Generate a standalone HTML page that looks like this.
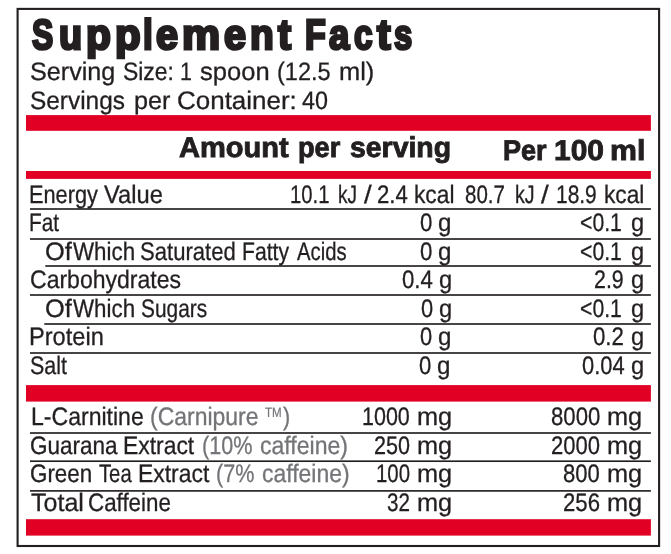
<!DOCTYPE html>
<html lang="en"><head><meta charset="utf-8"><title>Supplement Facts</title>
<style>
html,body{margin:0;padding:0;background:#fff}
#label{text-rendering:geometricPrecision;position:relative;width:671px;height:554px;overflow:hidden;background:#fff;font-family:"Liberation Sans",Arial,sans-serif;color:#231f20}
#label span{position:absolute;white-space:nowrap;transform-origin:0 0;display:block}
#label span i{display:inline-block;font-style:normal;transform-origin:0 0;white-space:nowrap;overflow:visible}
#label svg{position:absolute;left:0;top:0;display:block}
#txt{position:absolute;left:0;top:0;width:671px;height:554px;will-change:transform}
</style></head><body>
<div id="label">
<svg width="671" height="554" viewBox="0 0 671 554" shape-rendering="geometricPrecision">
<rect x="17.6" y="8.9" width="641.5" height="537.1" fill="none" stroke="#231f20" stroke-width="2.1"/>
<rect x="26" y="115.10" width="624.90" height="15.7" fill="#e10024"/>
<rect x="26" y="171.00" width="624.90" height="7.9" fill="#e10024"/>
<rect x="26" y="385.10" width="624.90" height="16.5" fill="#e10024"/>
<rect x="26" y="519.20" width="624.90" height="16.4" fill="#e10024"/>
<rect x="30" y="208.18" width="620.90" height="1.65" fill="#231f20"/>
<rect x="30" y="238.18" width="620.90" height="1.65" fill="#231f20"/>
<rect x="45.3" y="265.18" width="605.60" height="1.65" fill="#231f20"/>
<rect x="30" y="294.18" width="620.90" height="1.65" fill="#231f20"/>
<rect x="44.3" y="323.18" width="606.60" height="1.65" fill="#231f20"/>
<rect x="30" y="352.18" width="620.90" height="1.65" fill="#231f20"/>
<rect x="30" y="432.18" width="620.90" height="1.65" fill="#231f20"/>
<rect x="30" y="460.38" width="620.90" height="1.65" fill="#231f20"/>
<rect x="30" y="490.07" width="620.90" height="1.65" fill="#231f20"/>
</svg>
<div id="txt">
<span style="left:32.16px;top:14px;font-size:42.2px;line-height:42.2px;font-weight:700;-webkit-text-stroke:2.8px #231f20"><i style="width:26.92px;transform:scaleX(0.7541)">S</i><i style="width:27.02px;transform:scaleX(0.8954)">u</i><i style="width:28.46px;transform:scaleX(0.9650)">p</i><i style="width:28.50px;transform:scaleX(0.9935)">p</i><i style="width:13.20px;transform:scaleX(0.8303)">l</i><i style="width:25.87px;transform:scaleX(0.9372)">e</i><i style="width:41.53px;transform:scaleX(1.0168)">m</i><i style="width:25.98px;transform:scaleX(0.9372)">e</i><i style="width:28.04px;transform:scaleX(0.9205)">n</i><i style="width:40.00px;transform:scaleX(0.9311)">t</i></span>
<span style="left:305.10px;top:14px;font-size:42.2px;line-height:42.2px;font-weight:700;-webkit-text-stroke:2.8px #231f20"><i style="width:23.74px;transform:scaleX(0.8062)">F</i><i style="width:25.22px;transform:scaleX(0.8656)">a</i><i style="width:22.69px;transform:scaleX(0.7908)">c</i><i style="width:17.11px;transform:scaleX(0.9671)">t</i><i style="width:40.00px;transform:scaleX(0.7788)">s</i></span>
<span style="left:30.06px;top:60px;font-size:25.2px;line-height:25.2px;transform:scaleX(0.9995);-webkit-text-stroke:0.3px #231f20">Serving</span>
<span style="left:123.02px;top:60px;font-size:25.2px;line-height:25.2px;transform:scaleX(0.9088);-webkit-text-stroke:0.3px #231f20">Size:</span>
<span style="left:179.66px;top:60px;font-size:25.2px;line-height:25.2px;transform:scaleX(0.8500);-webkit-text-stroke:0.3px #231f20">1</span>
<span style="left:200.45px;top:60px;font-size:25.2px;line-height:25.2px;transform:scaleX(1.0141);-webkit-text-stroke:0.3px #231f20">spoon</span>
<span style="left:276.74px;top:60px;font-size:25.2px;line-height:25.2px;transform:scaleX(0.9327);-webkit-text-stroke:0.3px #231f20">(12.5</span>
<span style="left:338.56px;top:60px;font-size:25.2px;line-height:25.2px;transform:scaleX(1.0092);-webkit-text-stroke:0.3px #231f20">ml)</span>
<span style="left:30.08px;top:89px;font-size:25.2px;line-height:25.2px;transform:scaleX(0.9683);-webkit-text-stroke:0.3px #231f20">Servings</span>
<span style="left:134.07px;top:89px;font-size:25.2px;line-height:25.2px;transform:scaleX(1.0022);-webkit-text-stroke:0.3px #231f20">per</span>
<span style="left:176.94px;top:89px;font-size:25.2px;line-height:25.2px;transform:scaleX(1.0309);-webkit-text-stroke:0.3px #231f20">Container:</span>
<span style="left:302.47px;top:89px;font-size:25.2px;line-height:25.2px;transform:scaleX(0.9264);-webkit-text-stroke:0.3px #231f20">40</span>
<span style="left:179.20px;top:134px;font-size:28.6px;line-height:28.6px;transform:scaleX(1.0154);font-weight:700;-webkit-text-stroke:0.9px #231f20">Amount</span>
<span style="left:298.03px;top:134px;font-size:28.6px;line-height:28.6px;transform:scaleX(0.9511);font-weight:700;-webkit-text-stroke:0.9px #231f20">per</span>
<span style="left:349.86px;top:134px;font-size:28.6px;line-height:28.6px;transform:scaleX(0.9929);font-weight:700;-webkit-text-stroke:0.9px #231f20">serving</span>
<span style="left:502.63px;top:137px;font-size:28.6px;line-height:28.6px;transform:scaleX(0.9460);font-weight:700;-webkit-text-stroke:0.9px #231f20">Per</span>
<span style="left:554.40px;top:137px;font-size:28.6px;line-height:28.6px;transform:scaleX(1.0466);font-weight:700;-webkit-text-stroke:0.9px #231f20">100</span>
<span style="left:610.48px;top:137px;font-size:28.6px;line-height:28.6px;transform:scaleX(1.0585);font-weight:700;-webkit-text-stroke:0.9px #231f20">ml</span>
<span style="left:28.93px;top:183px;font-size:25.3px;line-height:25.3px;transform:scaleX(0.8600);-webkit-text-stroke:0.3px #231f20">Energy</span>
<span style="left:104.24px;top:183px;font-size:25.3px;line-height:25.3px;transform:scaleX(0.9371);-webkit-text-stroke:0.3px #231f20">Value</span>
<span style="left:289.85px;top:183px;font-size:25.3px;line-height:25.3px;transform:scaleX(0.8011);-webkit-text-stroke:0.3px #231f20">10.1</span>
<span style="left:338.42px;top:183px;font-size:25.3px;line-height:25.3px;transform:scaleX(0.7532);-webkit-text-stroke:0.3px #231f20">kJ</span>
<span style="left:363.94px;top:183px;font-size:25.3px;line-height:25.3px;transform:scaleX(1.1000);-webkit-text-stroke:0.3px #231f20">/</span>
<span style="left:376.99px;top:183px;font-size:25.3px;line-height:25.3px;transform:scaleX(0.8766);-webkit-text-stroke:0.3px #231f20">2.4</span>
<span style="left:413.91px;top:183px;font-size:25.3px;line-height:25.3px;transform:scaleX(0.8991);-webkit-text-stroke:0.3px #231f20">kcal</span>
<span style="left:465.48px;top:183px;font-size:25.3px;line-height:25.3px;transform:scaleX(0.8109);-webkit-text-stroke:0.3px #231f20">80.7</span>
<span style="left:514.79px;top:183px;font-size:25.3px;line-height:25.3px;transform:scaleX(0.7755);-webkit-text-stroke:0.3px #231f20">kJ</span>
<span style="left:540.89px;top:183px;font-size:25.3px;line-height:25.3px;transform:scaleX(1.1000);-webkit-text-stroke:0.3px #231f20">/</span>
<span style="left:555.52px;top:183px;font-size:25.3px;line-height:25.3px;transform:scaleX(0.8267);-webkit-text-stroke:0.3px #231f20">18.9</span>
<span style="left:604.12px;top:183px;font-size:25.3px;line-height:25.3px;transform:scaleX(0.8967);-webkit-text-stroke:0.3px #231f20">kcal</span>
<span style="left:29.00px;top:211px;font-size:25.3px;line-height:25.3px;transform:scaleX(0.8237);-webkit-text-stroke:0.3px #231f20">Fat</span>
<span style="left:420.04px;top:211px;font-size:25.3px;line-height:25.3px;transform:scaleX(0.8803);-webkit-text-stroke:0.3px #231f20">0</span>
<span style="left:438.39px;top:211px;font-size:25.3px;line-height:25.3px;transform:scaleX(0.9540);-webkit-text-stroke:0.3px #231f20">g</span>
<span style="left:579.73px;top:211px;font-size:25.3px;line-height:25.3px;transform:scaleX(0.8390);-webkit-text-stroke:0.3px #231f20">&lt;0.1</span>
<span style="left:630.80px;top:211px;font-size:25.3px;line-height:25.3px;transform:scaleX(0.9375);-webkit-text-stroke:0.3px #231f20">g</span>
<span style="left:44.96px;top:240px;font-size:25.3px;line-height:25.3px;transform:scaleX(1.0035);-webkit-text-stroke:0.3px #231f20">Of</span>
<span style="left:73.23px;top:240px;font-size:25.3px;line-height:25.3px;transform:scaleX(0.8833);-webkit-text-stroke:0.3px #231f20">Which</span>
<span style="left:140.34px;top:240px;font-size:25.3px;line-height:25.3px;transform:scaleX(0.8729);-webkit-text-stroke:0.3px #231f20">Saturated</span>
<span style="left:241.87px;top:240px;font-size:25.3px;line-height:25.3px;transform:scaleX(0.8358);-webkit-text-stroke:0.3px #231f20">Fatty</span>
<span style="left:296.62px;top:240px;font-size:25.3px;line-height:25.3px;transform:scaleX(0.8016);-webkit-text-stroke:0.3px #231f20">Acids</span>
<span style="left:420.04px;top:240px;font-size:25.3px;line-height:25.3px;transform:scaleX(0.8803);-webkit-text-stroke:0.3px #231f20">0</span>
<span style="left:438.39px;top:240px;font-size:25.3px;line-height:25.3px;transform:scaleX(0.9540);-webkit-text-stroke:0.3px #231f20">g</span>
<span style="left:579.73px;top:240px;font-size:25.3px;line-height:25.3px;transform:scaleX(0.8390);-webkit-text-stroke:0.3px #231f20">&lt;0.1</span>
<span style="left:630.80px;top:240px;font-size:25.3px;line-height:25.3px;transform:scaleX(0.9375);-webkit-text-stroke:0.3px #231f20">g</span>
<span style="left:29.56px;top:268px;font-size:25.3px;line-height:25.3px;transform:scaleX(0.9101);-webkit-text-stroke:0.3px #231f20">Carbohydrates</span>
<span style="left:402.24px;top:268px;font-size:25.3px;line-height:25.3px;transform:scaleX(0.8781);-webkit-text-stroke:0.3px #231f20">0.4</span>
<span style="left:438.80px;top:268px;font-size:25.3px;line-height:25.3px;transform:scaleX(0.9375);-webkit-text-stroke:0.3px #231f20">g</span>
<span style="left:594.32px;top:268px;font-size:25.3px;line-height:25.3px;transform:scaleX(0.8449);-webkit-text-stroke:0.3px #231f20">2.9</span>
<span style="left:630.80px;top:268px;font-size:25.3px;line-height:25.3px;transform:scaleX(0.9375);-webkit-text-stroke:0.3px #231f20">g</span>
<span style="left:44.96px;top:297px;font-size:25.3px;line-height:25.3px;transform:scaleX(1.0035);-webkit-text-stroke:0.3px #231f20">Of</span>
<span style="left:73.23px;top:297px;font-size:25.3px;line-height:25.3px;transform:scaleX(0.8833);-webkit-text-stroke:0.3px #231f20">Which</span>
<span style="left:140.67px;top:297px;font-size:25.3px;line-height:25.3px;transform:scaleX(0.8253);-webkit-text-stroke:0.3px #231f20">Sugars</span>
<span style="left:420.95px;top:297px;font-size:25.3px;line-height:25.3px;transform:scaleX(0.8649);-webkit-text-stroke:0.3px #231f20">0</span>
<span style="left:438.80px;top:297px;font-size:25.3px;line-height:25.3px;transform:scaleX(0.9375);-webkit-text-stroke:0.3px #231f20">g</span>
<span style="left:580.03px;top:297px;font-size:25.3px;line-height:25.3px;transform:scaleX(0.8390);-webkit-text-stroke:0.3px #231f20">&lt;0.1</span>
<span style="left:630.80px;top:297px;font-size:25.3px;line-height:25.3px;transform:scaleX(0.9375);-webkit-text-stroke:0.3px #231f20">g</span>
<span style="left:29.20px;top:325px;font-size:25.3px;line-height:25.3px;transform:scaleX(0.9330);-webkit-text-stroke:0.3px #231f20">Protein</span>
<span style="left:420.25px;top:325px;font-size:25.3px;line-height:25.3px;transform:scaleX(0.8649);-webkit-text-stroke:0.3px #231f20">0</span>
<span style="left:438.19px;top:325px;font-size:25.3px;line-height:25.3px;transform:scaleX(0.9540);-webkit-text-stroke:0.3px #231f20">g</span>
<span style="left:593.44px;top:325px;font-size:25.3px;line-height:25.3px;transform:scaleX(0.8795);-webkit-text-stroke:0.3px #231f20">0.2</span>
<span style="left:630.80px;top:325px;font-size:25.3px;line-height:25.3px;transform:scaleX(0.9375);-webkit-text-stroke:0.3px #231f20">g</span>
<span style="left:29.96px;top:354px;font-size:25.3px;line-height:25.3px;transform:scaleX(0.8474);-webkit-text-stroke:0.3px #231f20">Salt</span>
<span style="left:419.14px;top:354px;font-size:25.3px;line-height:25.3px;transform:scaleX(0.8726);-webkit-text-stroke:0.3px #231f20">0</span>
<span style="left:437.19px;top:354px;font-size:25.3px;line-height:25.3px;transform:scaleX(0.9540);-webkit-text-stroke:0.3px #231f20">g</span>
<span style="left:582.14px;top:354px;font-size:25.3px;line-height:25.3px;transform:scaleX(0.8666);-webkit-text-stroke:0.3px #231f20">0.04</span>
<span style="left:630.80px;top:354px;font-size:25.3px;line-height:25.3px;transform:scaleX(0.9375);-webkit-text-stroke:0.3px #231f20">g</span>
<span style="left:30.54px;top:405px;font-size:25.3px;line-height:25.3px;transform:scaleX(0.9112);-webkit-text-stroke:0.3px #231f20">L-Carnitine</span>
<span style="left:149.76px;top:405px;font-size:25.3px;line-height:25.3px;transform:scaleX(0.9081);color:#737477;-webkit-text-stroke:0.3px #737477">(Carnipure</span>
<span style="left:265.41px;top:406px;font-size:13.5px;line-height:13.5px;transform:scaleX(0.8562);color:#737477;-webkit-text-stroke:0.2px #737477">TM</span>
<span style="left:282.83px;top:405px;font-size:25.3px;line-height:25.3px;transform:scaleX(0.8500);color:#737477;-webkit-text-stroke:0.3px #737477">)</span>
<span style="left:362.18px;top:405px;font-size:25.3px;line-height:25.3px;transform:scaleX(0.8497);-webkit-text-stroke:0.3px #231f20">1000</span>
<span style="left:416.77px;top:405px;font-size:25.3px;line-height:25.3px;transform:scaleX(1.0017);-webkit-text-stroke:0.3px #231f20">mg</span>
<span style="left:550.74px;top:405px;font-size:25.3px;line-height:25.3px;transform:scaleX(0.8756);-webkit-text-stroke:0.3px #231f20">8000</span>
<span style="left:606.77px;top:405px;font-size:25.3px;line-height:25.3px;transform:scaleX(1.0017);-webkit-text-stroke:0.3px #231f20">mg</span>
<span style="left:29.58px;top:434px;font-size:25.3px;line-height:25.3px;transform:scaleX(0.8902);-webkit-text-stroke:0.3px #231f20">Guarana</span>
<span style="left:123.25px;top:434px;font-size:25.3px;line-height:25.3px;transform:scaleX(0.9049);-webkit-text-stroke:0.3px #231f20">Extract</span>
<span style="left:202.11px;top:434px;font-size:25.3px;line-height:25.3px;transform:scaleX(0.8551);color:#737477;-webkit-text-stroke:0.3px #737477">(10%</span>
<span style="left:260.32px;top:434px;font-size:25.3px;line-height:25.3px;transform:scaleX(0.9116);color:#737477;-webkit-text-stroke:0.3px #737477">caffeine)</span>
<span style="left:374.02px;top:434px;font-size:25.3px;line-height:25.3px;transform:scaleX(0.8527);-webkit-text-stroke:0.3px #231f20">250</span>
<span style="left:416.77px;top:434px;font-size:25.3px;line-height:25.3px;transform:scaleX(1.0017);-webkit-text-stroke:0.3px #231f20">mg</span>
<span style="left:551.00px;top:434px;font-size:25.3px;line-height:25.3px;transform:scaleX(0.8710);-webkit-text-stroke:0.3px #231f20">2000</span>
<span style="left:606.77px;top:434px;font-size:25.3px;line-height:25.3px;transform:scaleX(1.0017);-webkit-text-stroke:0.3px #231f20">mg</span>
<span style="left:29.58px;top:462px;font-size:25.3px;line-height:25.3px;transform:scaleX(0.8852);-webkit-text-stroke:0.3px #231f20">Green</span>
<span style="left:98.60px;top:462px;font-size:25.3px;line-height:25.3px;transform:scaleX(0.8004);-webkit-text-stroke:0.3px #231f20">Tea</span>
<span style="left:137.84px;top:462px;font-size:25.3px;line-height:25.3px;transform:scaleX(0.9062);-webkit-text-stroke:0.3px #231f20">Extract</span>
<span style="left:216.12px;top:462px;font-size:25.3px;line-height:25.3px;transform:scaleX(0.8535);color:#737477;-webkit-text-stroke:0.3px #737477">(7%</span>
<span style="left:262.22px;top:462px;font-size:25.3px;line-height:25.3px;transform:scaleX(0.9074);color:#737477;-webkit-text-stroke:0.3px #737477">caffeine)</span>
<span style="left:375.95px;top:462px;font-size:25.3px;line-height:25.3px;transform:scaleX(0.8064);-webkit-text-stroke:0.3px #231f20">100</span>
<span style="left:416.77px;top:462px;font-size:25.3px;line-height:25.3px;transform:scaleX(1.0017);-webkit-text-stroke:0.3px #231f20">mg</span>
<span style="left:563.24px;top:462px;font-size:25.3px;line-height:25.3px;transform:scaleX(0.8712);-webkit-text-stroke:0.3px #231f20">800</span>
<span style="left:606.77px;top:462px;font-size:25.3px;line-height:25.3px;transform:scaleX(1.0017);-webkit-text-stroke:0.3px #231f20">mg</span>
<span style="left:30.66px;top:491px;font-size:25.3px;line-height:25.3px;transform:scaleX(0.9907);-webkit-text-stroke:0.3px #231f20">Total</span>
<span style="left:88.48px;top:491px;font-size:25.3px;line-height:25.3px;transform:scaleX(0.8839);-webkit-text-stroke:0.3px #231f20">Caffeine</span>
<span style="left:387.38px;top:491px;font-size:25.3px;line-height:25.3px;transform:scaleX(0.8150);-webkit-text-stroke:0.3px #231f20">32</span>
<span style="left:416.77px;top:491px;font-size:25.3px;line-height:25.3px;transform:scaleX(1.0017);-webkit-text-stroke:0.3px #231f20">mg</span>
<span style="left:563.39px;top:491px;font-size:25.3px;line-height:25.3px;transform:scaleX(0.8759);-webkit-text-stroke:0.3px #231f20">256</span>
<span style="left:606.77px;top:491px;font-size:25.3px;line-height:25.3px;transform:scaleX(1.0017);-webkit-text-stroke:0.3px #231f20">mg</span>
</div>
</div>
</body></html>
